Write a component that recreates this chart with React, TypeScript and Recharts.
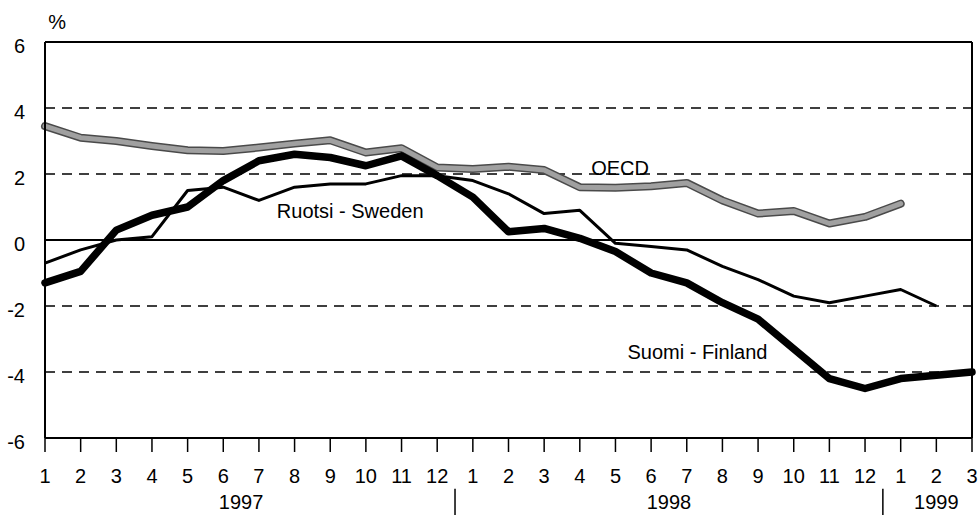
import { LineChart, Line, XAxis, YAxis, ReferenceLine, ReferenceDot } from "recharts";

// month tick labels, 1/1997 .. 3/1999
const monthLabels = [
  "1", "2", "3", "4", "5", "6", "7", "8", "9", "10", "11", "12",
  "1", "2", "3", "4", "5", "6", "7", "8", "9", "10", "11", "12",
  "1", "2", "3",
];
const years = ["1997", "1998", "1999"];
const monthsPerYear = [12, 12, 3];

const finland = [
  -1.3, -0.95, 0.3, 0.75, 1.0, 1.8, 2.4, 2.6, 2.5, 2.25, 2.55, 1.95,
  1.3, 0.25, 0.35, 0.05, -0.35, -1.0, -1.3, -1.9, -2.4, -3.3, -4.2, -4.5,
  -4.2, -4.1, -4.0,
];
const sweden = [
  -0.7, -0.3, 0.0, 0.1, 1.5, 1.6, 1.2, 1.6, 1.7, 1.7, 1.95, 1.95,
  1.8, 1.4, 0.8, 0.9, -0.1, -0.2, -0.3, -0.8, -1.2, -1.7, -1.9, -1.7,
  -1.5, -2.0, null,
];
const oecd = [
  3.45, 3.1, 3.0, 2.85, 2.72, 2.7, 2.8, 2.92, 3.02, 2.65, 2.78, 2.2,
  2.15, 2.22, 2.12, 1.6, 1.58, 1.63, 1.73, 1.2, 0.8, 0.88, 0.5, 0.7,
  1.1, null, null,
];

const yTicks = [-6, -4, -2, 0, 2, 4, 6];

const data = monthLabels.map((m, i) => ({
  i,
  m,
  finland: finland[i],
  sweden: sweden[i],
  oecd: oecd[i],
}));

// year blocks: label centred under its months, separator between years
let start = 0;
const yearBlocks = years.map((y, k) => {
  const n = monthsPerYear[k];
  const b = { year: y, mid: start + (n - 1) / 2, end: start + n - 0.5 };
  start += n;
  return b;
});

const font = "'Liberation Sans', Arial, Helvetica, sans-serif";
const fs = 20;

const label = (text: string) => (p: any) => (
  <text
    x={p.cx}
    y={p.cy}
    textAnchor="middle"
    dominantBaseline="central"
    fontFamily={font}
    fontSize={fs}
    fill="#000"
  >
    {text}
  </text>
);

const YTick = ({ x, y, payload }: any) => (
  <text x={x} y={y + 4} textAnchor="end" dominantBaseline="central" fontFamily={font} fontSize={fs} fill="#000">
    {payload.value}
  </text>
);

export default function App() {
  return (
    <div>
      <style>{`body{margin:0;background:#fff}`}</style>
      <LineChart width={978} height={515} data={data} margin={{ top: 42, right: 6, bottom: 0, left: 0 }}>
        <XAxis
          dataKey="i"
          type="number"
          domain={[0, 26]}
          ticks={data.map((d) => d.i)}
          interval={0}
          tickFormatter={(v: number) => monthLabels[v]}
          height={77}
          tickSize={14}
          tickMargin={17}
          axisLine={{ stroke: "#000", strokeWidth: 2 }}
          tickLine={{ stroke: "#000", strokeWidth: 1.5 }}
          tick={{ fill: "#000", fontFamily: font, fontSize: fs }}
        />
        <YAxis
          type="number"
          domain={[-6, 6]}
          ticks={yTicks}
          interval={0}
          width={45}
          tickSize={0}
          tickMargin={20}
          tickLine={false}
          axisLine={{ stroke: "#000", strokeWidth: 2 }}
          tick={<YTick />}
        />
        {[4, 2, -2, -4].map((v) => (
          <ReferenceLine key={v} y={v} stroke="#000" strokeWidth={1.5} strokeDasharray="10 7" />
        ))}
        <ReferenceLine y={0} stroke="#000" strokeWidth={2} />
        <ReferenceLine y={6} stroke="#000" strokeWidth={2} />
        <ReferenceLine x={26} stroke="#000" strokeWidth={2} />

        <Line dataKey="oecd" stroke="#4a4a4a" strokeWidth={8} dot={false} isAnimationActive={false} strokeLinejoin="round" strokeLinecap="round" />
        <Line dataKey="oecd" stroke="#a0a0a0" strokeWidth={5} dot={false} isAnimationActive={false} strokeLinejoin="round" strokeLinecap="round" />
        <Line dataKey="sweden" stroke="#000" strokeWidth={3} dot={false} isAnimationActive={false} strokeLinejoin="round" />
        <Line dataKey="finland" stroke="#000" strokeWidth={7.5} dot={false} isAnimationActive={false} strokeLinejoin="round" strokeLinecap="round" />

        <ReferenceDot x={16.13} y={2.19} r={0} ifOverflow="visible" shape={label("OECD")} />
        <ReferenceDot x={8.56} y={0.89} r={0} ifOverflow="visible" shape={label("Ruotsi - Sweden")} />
        <ReferenceDot x={18.3} y={-3.39} r={0} ifOverflow="visible" shape={label("Suomi - Finland")} />
        <ReferenceDot x={0.34} y={6.61} r={0} ifOverflow="visible" shape={label("%")} />

        {yearBlocks.map((b) => (
          <ReferenceDot key={b.year} x={b.mid} y={-7.93} r={0} ifOverflow="visible" shape={label(b.year)} />
        ))}
        {yearBlocks.slice(0, -1).map((b) => (
          <ReferenceLine
            key={"sep" + b.year}
            ifOverflow="visible"
            segment={[{ x: b.end, y: -7.54 }, { x: b.end, y: -8.4 }]}
            stroke="#000"
            strokeWidth={1.5}
          />
        ))}
      </LineChart>
    </div>
  );
}
